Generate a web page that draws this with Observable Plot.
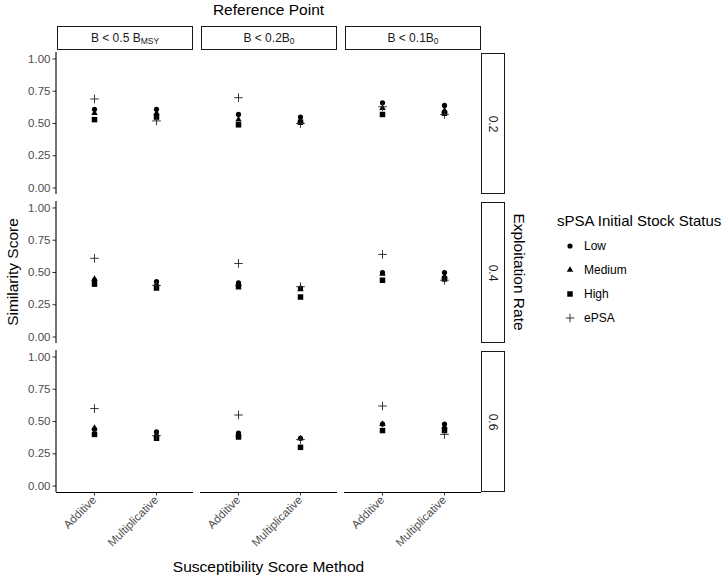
<!DOCTYPE html>
<html><head><meta charset="utf-8">
<script src="https://cdn.jsdelivr.net/npm/d3@7"></script>
<script src="https://cdn.jsdelivr.net/npm/@observablehq/plot@0.6"></script>
<style>
body{margin:0;background:#fff;font-family:"Liberation Sans",Arial,sans-serif;}
#wrap{position:relative;width:728px;height:579px;overflow:hidden;}
.strip{position:absolute;box-sizing:border-box;border:1.3px solid #1a1a1a;background:#fff;color:#1a1a1a;font-size:12px;display:flex;align-items:center;justify-content:center;white-space:nowrap;}
.strip .sb{font-size:8.5px;position:relative;top:3px;}
.title{position:absolute;color:#000;font-size:15.5px;white-space:nowrap;transform:translate(-50%,-50%);}
.legend{position:absolute;left:557px;top:212px;color:#000;}
.legend .lt{font-size:15px;margin-bottom:5px;}
.legend .it{display:flex;align-items:center;height:24px;font-size:12px;}
.legend svg{width:20px;height:14px;margin-left:3px;margin-right:4px;}
</style></head><body><div id="wrap"></div><script>
// Facets and categories
const referencePoints = ["B < 0.5 BMSY", "B < 0.2B0", "B < 0.1B0"];
const referenceLabels = ["B < 0.5 B<span class='sb'>MSY</span>", "B < 0.2B<span class='sb'>0</span>", "B < 0.1B<span class='sb'>0</span>"];
const exploitationRates = ["0.2", "0.4", "0.6"];
const methods = ["Additive", "Multiplicative"];
const statuses = ["Low", "Medium", "High", "ePSA"];
const yTicks = [0, 0.25, 0.5, 0.75, 1];

// Values ordered: reference point -> exploitation rate -> method (Additive, Multiplicative)
const lowScores    = [0.61,0.61, 0.44,0.43, 0.44,0.42,  0.57,0.55, 0.42,0.38, 0.41,0.37,  0.66,0.64, 0.50,0.50, 0.48,0.48];
const mediumScores = [0.58,0.58, 0.45,0.41, 0.45,0.40,  0.53,0.52, 0.41,0.37, 0.40,0.37,  0.62,0.60, 0.49,0.47, 0.48,0.46];
const highScores   = [0.53,0.55, 0.41,0.38, 0.40,0.37,  0.49,0.51, 0.39,0.31, 0.38,0.30,  0.57,0.58, 0.44,0.45, 0.43,0.43];
const epsaScores   = [0.69,0.52, 0.61,0.40, 0.60,0.39,  0.70,0.50, 0.57,0.39, 0.55,0.36,  0.63,0.57, 0.64,0.44, 0.62,0.40];

const rows = [];
let k = 0;
for (const ref of referencePoints)
  for (const rate of exploitationRates)
    for (const method of methods) {
      rows.push({ref, rate, method, Low: lowScores[k], Medium: mediumScores[k], High: highScores[k], ePSA: epsaScores[k]});
      k++;
    }

const W = 728, H = 579;
const chart = Plot.plot({
  width: W, height: H,
  marginLeft: 56, marginRight: 247, marginTop: 51, marginBottom: 87,
  style: {fontFamily: '"Liberation Sans", Arial, sans-serif', fontSize: "11.5px", background: "transparent"},
  fx: {domain: referencePoints, paddingInner: 0.05, paddingOuter: 0, axis: null, label: null},
  fy: {domain: exploitationRates, paddingInner: 0.05, paddingOuter: 0, axis: null, label: null},
  x: {type: "point", domain: methods, padding: 0.6, label: null, axis: null},
  y: {domain: [-0.05, 1.05], label: null, axis: null},
  marks: [
    Plot.axisY({ticks: yTicks, tickFormat: d3.format(".2f"), tickSize: 3.5, tickPadding: 2.5,
                stroke: "#333", fill: "#4d4d4d", label: null, fontSize: 11.5}),
    Plot.axisX({tickRotate: -45, tickSize: 3.5, tickPadding: 2,
                stroke: "#333", fill: "#4d4d4d", label: null, fontSize: 11.5}),
    Plot.ruleY([-0.05], {facetAnchor: "bottom", stroke: "#000", strokeWidth: 1.1}),
    Plot.dot(rows, {fx: "ref", fy: "rate", x: "method", y: "Low", symbol: "circle", r: 2.6, fill: "black"}),
    Plot.dot(rows, {fx: "ref", fy: "rate", x: "method", y: "Medium", symbol: "triangle", r: 2.4, fill: "black"}),
    Plot.dot(rows, {fx: "ref", fy: "rate", x: "method", y: "High", symbol: "square", r: 3.1, fill: "black"}),
    Plot.dot(rows, {fx: "ref", fy: "rate", x: "method", y: "ePSA", symbol: "plus", r: 2.9, stroke: "#222", strokeWidth: 0.9})
  ]
});

const wrap = document.getElementById("wrap");
wrap.appendChild(chart);

const fx = chart.scale("fx"), fy = chart.scale("fy");
const bwx = fx.bandwidth, bwy = fy.bandwidth;
const top0 = fy.apply(exploitationRates[0]);
const left0 = fx.apply(referencePoints[0]);
const rightEdge = fx.apply(referencePoints[2]) + bwx;
const bottomEdge = fy.apply(exploitationRates[2]) + bwy;

// y axis lines on the left-most panels only
const svg = d3.select(chart);
exploitationRates.forEach(r => {
  const y = fy.apply(r);
  svg.append("line").attr("x1", left0).attr("x2", left0).attr("y1", y).attr("y2", y + bwy)
    .attr("stroke", "#000").attr("stroke-width", 1.1);
});

// top strips
referencePoints.forEach((r, i) => {
  const d = document.createElement("div");
  d.className = "strip";
  const x = fx.apply(r);
  Object.assign(d.style, {left: (x + 1) + "px", top: (top0 - 26) + "px", width: (bwx - 1) + "px", height: "24px"});
  d.innerHTML = referenceLabels[i];
  wrap.appendChild(d);
});
// right strips
exploitationRates.forEach(r => {
  const d = document.createElement("div");
  d.className = "strip";
  const y = fy.apply(r);
  Object.assign(d.style, {left: rightEdge + "px", top: (y + 1) + "px", width: "24px", height: (bwy - 1) + "px"});
  d.innerHTML = `<span style="display:inline-block;transform:rotate(90deg)">${r}</span>`;
  wrap.appendChild(d);
});

function addTitle(text, x, y, rot) {
  const d = document.createElement("div");
  d.className = "title";
  d.textContent = text;
  Object.assign(d.style, {left: x + "px", top: y + "px"});
  if (rot) d.style.transform = `translate(-50%,-50%) rotate(${rot}deg)`;
  wrap.appendChild(d);
}
const cx = (left0 + rightEdge) / 2, cy = (top0 + bottomEdge) / 2;
addTitle("Reference Point", cx, 10, 0);
addTitle("Susceptibility Score Method", cx, 567, 0);
addTitle("Similarity Score", 13, cy, -90);
addTitle("Exploitation Rate", rightEdge + 38, cy, 90);

// legend
const leg = document.createElement("div");
leg.className = "legend";
leg.innerHTML = `<div class="lt">sPSA Initial Stock Status</div>`;
const legSym = {Low: [d3.symbolCircle, 21, true], Medium: [d3.symbolTriangle, 18, true], High: [d3.symbolSquare, 30, true], ePSA: [d3.symbolPlus, 26, false]};
statuses.forEach(s => {
  const [sym, size, filled] = legSym[s];
  const path = d3.symbol(sym, size)();
  const it = document.createElement("div");
  it.className = "it";
  it.innerHTML = `<svg viewBox="-10 -7 20 14"><path d="${path}" ${filled ? 'fill="black"' : 'fill="none" stroke="#222" stroke-width="0.9"'}/></svg><span>${s}</span>`;
  leg.appendChild(it);
});
wrap.appendChild(leg);
</script></body></html>
